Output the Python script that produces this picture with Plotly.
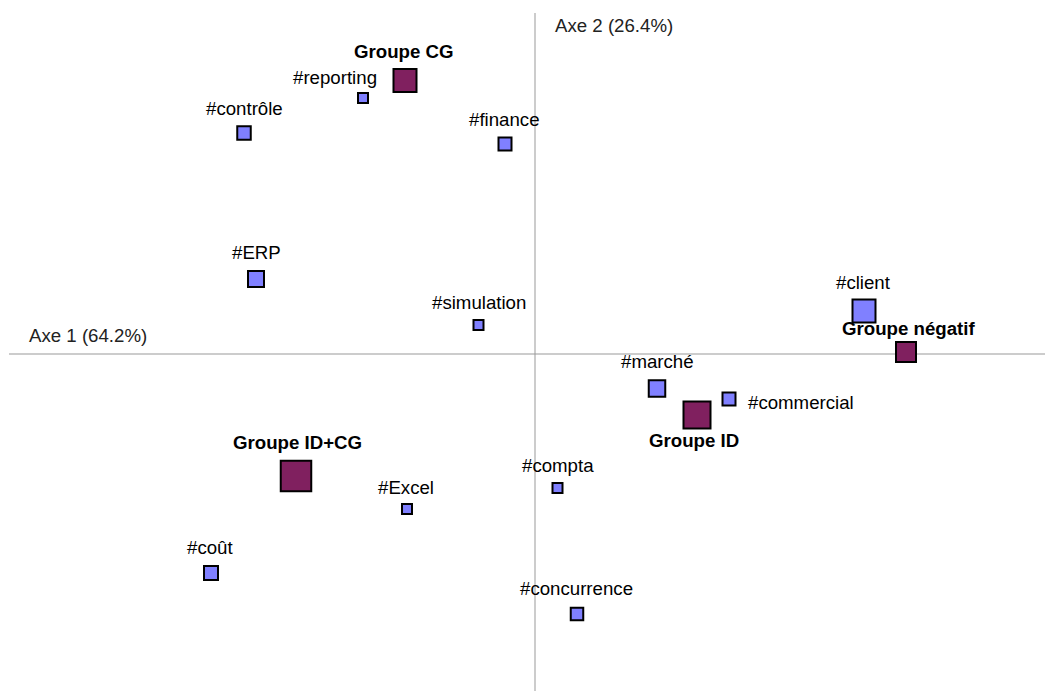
import plotly.graph_objects as go

# ---- data (correspondence analysis coordinates) ----
labels = ["Groupe CG", "#reporting", "#contrôle", "#finance", "#ERP", "#simulation",
          "#client", "Groupe négatif", "#marché", "#commercial", "Groupe ID",
          "Groupe ID+CG", "#Excel", "#compta", "#coût", "#concurrence"]
axis1 = [-1.30, -1.72, -2.91, -0.30, -2.79, -0.565, 3.29, 3.71, 1.22, 1.94, 1.62,
         -2.39, -1.28, 0.225, -3.24, 0.42]
axis2 = [2.735, 2.56, 2.21, 2.10, 0.75, 0.29, 0.43, 0.02, -0.345, -0.45, -0.61,
         -1.22, -1.55, -1.34, -2.19, -2.60]
is_group = [True, False, False, False, False, False, False, True, False, False, True,
            True, False, False, False, False]
axis_titles = ["Axe 1 (64.2%)", "Axe 2 (26.4%)"]

# ---- styles ----
marker_px = [23, 10, 13.5, 13, 16, 10, 23, 20, 16.5, 13, 27, 30.5, 10, 10, 14, 12.5]
label_shift = [(-1, 29.5), (-28, 21), (0, 25), (-1, 25), (0, 27), (0, 23), (-1, 29), (2, 24),
               (0, 27), (72, -3), (-3, -25), (1, 34), (-1, 22), (0, 23), (-1, 26), (-1, 26)]
BLUE = "#8080FF"
PURPLE = "#80205F"
FONT = "Liberation Sans, Arial, sans-serif"
FS = 18.67

fig = go.Figure()

# axes lines
fig.add_shape(type="line", x0=-5.26, x1=5.10, y0=0, y1=0, line=dict(color="#999999", width=1), layer="below")
fig.add_shape(type="line", x0=0, x1=0, y0=-3.37, y1=3.41, line=dict(color="#999999", width=1), layer="below")

colors = [PURPLE if g else BLUE for g in is_group]
fig.add_trace(go.Scatter(
    x=axis1, y=axis2, mode="markers",
    marker=dict(symbol="square", size=marker_px, color=colors, opacity=1,
                line=dict(color="black", width=2)),
    hoverinfo="text", text=labels, showlegend=False,
))

for lab, x, y, g, (dx, dy) in zip(labels, axis1, axis2, is_group, label_shift):
    fig.add_annotation(
        x=x, y=y, xref="x", yref="y", text=f"<b>{lab}</b>" if g else lab,
        showarrow=False, xshift=dx, yshift=dy, xanchor="center", yanchor="middle",
        font=dict(family=FONT, size=FS, color="black"),
    )

fig.add_annotation(x=-5.08, y=0.19, text=axis_titles[0], showarrow=False, xanchor="left",
                   yanchor="middle", font=dict(family=FONT, size=FS, color="#222222"))
fig.add_annotation(x=0.18, y=3.29, text=axis_titles[1], showarrow=False, xanchor="left",
                   yanchor="middle", font=dict(family=FONT, size=FS, color="#222222"))

fig.update_layout(
    width=1045, height=691, autosize=False,
    margin=dict(l=0, r=0, t=0, b=0),
    paper_bgcolor="white", plot_bgcolor="white",
    xaxis=dict(range=[-5.35, 5.10], visible=False, fixedrange=True),
    yaxis=dict(range=[-3.37, 3.54], visible=False, fixedrange=True),
)

fig.write_html("out.html", config={"displayModeBar": False},
               post_script="document.body.style.margin='0';document.body.style.overflow='hidden';")
